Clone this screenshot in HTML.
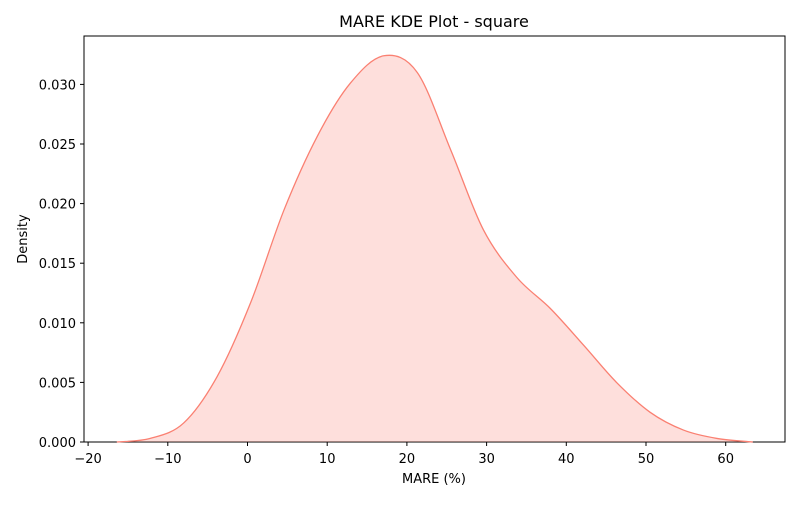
<!DOCTYPE html>
<html><head><meta charset="utf-8"><style>
body{margin:0;background:#fff;font-family:"Liberation Sans","DejaVu Sans",sans-serif}
svg text{font-family:"DejaVu Sans","Liberation Sans",sans-serif;font-size:13px;fill:#000}
</style></head><body>
<svg id="chart" width="800" height="500">
<rect x="84" y="36" width="701" height="406" fill="#fff" stroke="#000" stroke-width="1"/>
<text x="434" y="27" text-anchor="middle" font-size="16" style="font-size:16px">MARE KDE Plot - square</text>
<text x="434" y="483" text-anchor="middle">MARE (%)</text>
<text x="27" y="239" text-anchor="middle" transform="rotate(-90 27 239)">Density</text>
<g id="ticks"></g>
<path id="area" fill="rgba(250,128,114,0.25)" stroke="none"/>
<path id="line" fill="none" stroke="#fa8072" stroke-width="1.3"/>
</svg>
<script>
const xs=[-16.4,-12.2,-8.0,-3.8,0.4,4.6,8.8,12.9,17.1,21.3,25.5,29.6,33.8,38.0,42.2,46.3,50.5,54.7,58.9,63.4];
const ds=[0,0.0003,0.0016,0.0055,0.0117,0.0195,0.0257,0.0301,0.0324,0.0310,0.0245,0.0178,0.0138,0.0112,0.0081,0.0050,0.0025,0.0010,0.0003,0];
const xTicks=[-20,-10,0,10,20,30,40,50,60];
const yTicks=[0,0.005,0.010,0.015,0.020,0.025,0.030];
const X=v=>247.5+(v)*7.97;
const Y=v=>442-v*11920;
const ns="http://www.w3.org/2000/svg";
const g=document.getElementById('ticks');
xTicks.forEach(t=>{
 const l=document.createElementNS(ns,'line');
 l.setAttribute('x1',X(t));l.setAttribute('x2',X(t));l.setAttribute('y1',442);l.setAttribute('y2',446);l.setAttribute('stroke','#000');
 
 
 g.appendChild(l);
 const tx=document.createElementNS(ns,'text');
 tx.setAttribute('x',X(t));tx.setAttribute('y',463);tx.setAttribute('text-anchor','middle');tx.textContent=t<0?'\u2212'+(-t):t;
 
 
 g.appendChild(tx);
});
yTicks.forEach(t=>{
 const l=document.createElementNS(ns,'line');
 l.setAttribute('x1',80);l.setAttribute('x2',84);l.setAttribute('y1',Y(t));l.setAttribute('y2',Y(t));l.setAttribute('stroke','#000');
 
 
 g.appendChild(l);
 const tx=document.createElementNS(ns,'text');
 tx.setAttribute('x',76);tx.setAttribute('y',Y(t)+5);tx.setAttribute('text-anchor','end');tx.textContent=t.toFixed(3);
 
 
 g.appendChild(tx);
});
const P=xs.map((x,i)=>[X(x),Y(ds[i])]);
let d='M'+P[0][0]+','+P[0][1];
for(let i=0;i<P.length-1;i++){
 const p0=P[Math.max(0,i-1)],p1=P[i],p2=P[i+1],p3=P[Math.min(P.length-1,i+2)];
 const c1=[p1[0]+(p2[0]-p0[0])/6,p1[1]+(p2[1]-p0[1])/6];
 const c2=[p2[0]-(p3[0]-p1[0])/6,p2[1]-(p3[1]-p1[1])/6];
 d+=`C${c1[0]},${Math.min(442,c1[1])} ${c2[0]},${Math.min(442,c2[1])} ${p2[0]},${p2[1]}`;
}
document.getElementById('line').setAttribute('d',d);
document.getElementById('area').setAttribute('d',d+`L${P[P.length-1][0]},442L${P[0][0]},442Z`);
</script>
</body></html>
